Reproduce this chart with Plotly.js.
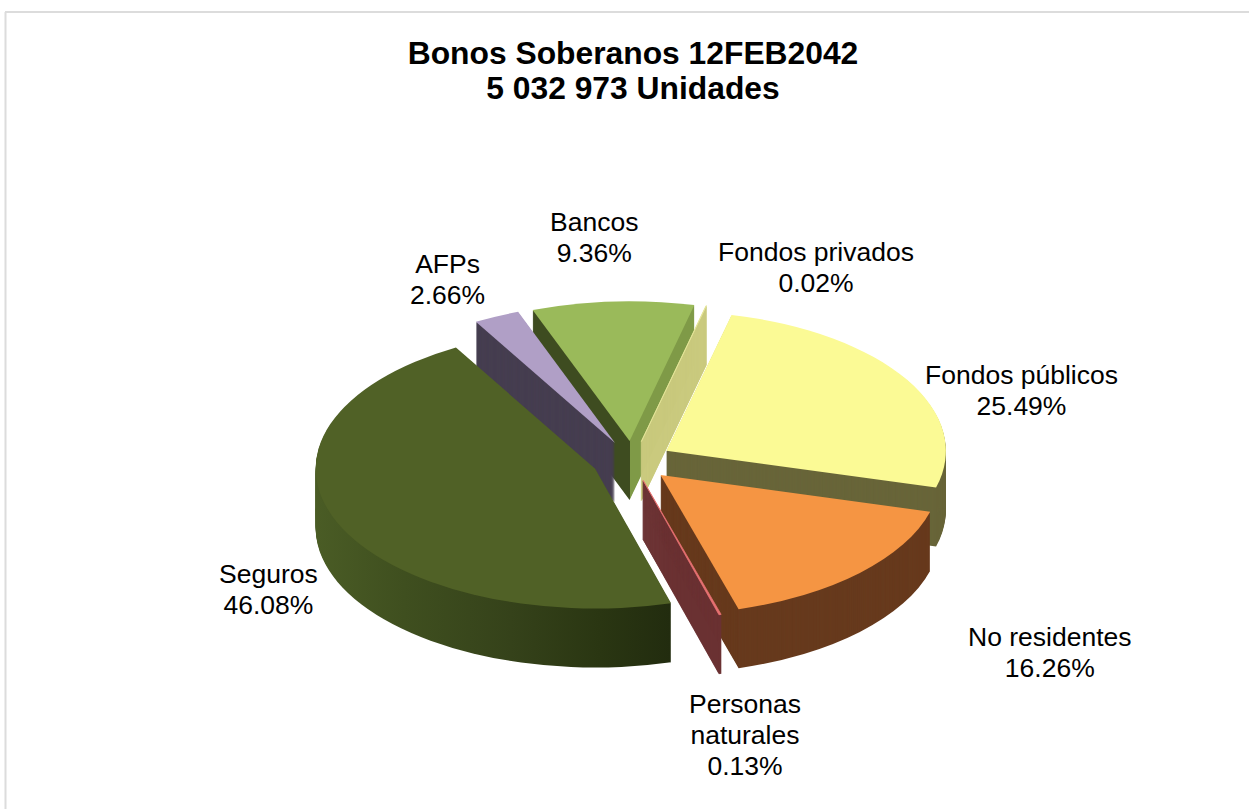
<!DOCTYPE html>
<html>
<head>
<meta charset="utf-8">
<script src="https://cdn.plot.ly/plotly-3.0.1.min.js"></script>
<style>html,body{margin:0;padding:0;background:#fff}#chart{width:1249px;height:809px}</style>
</head>
<body>
<div id="chart"></div>
<script>
// Data (clockwise from the first slice)
const categories = ["Fondos privados", "Fondos públicos", "No residentes", "Personas<br>naturales", "Seguros", "AFPs", "Bancos"];
const shares = [0.02, 25.49, 16.26, 0.13, 46.08, 2.66, 9.36];
const titleText = "Bonos Soberanos 12FEB2042<br>5 032 973 Unidades";

// Styles
const topColors  = ["#e6e69a", "#fbfa95", "#f59543", "#e87272", "#506126", "#b09fc6", "#9aba5a"];
const sideColors = ["#c9ca7e", "#686539", "#673a1d", "#6b3233", "#35421a", "#463e50", "#3e4c20"];
const thinLines  = [1, 0, 0, 1, 0, 0, 0];
const labelCentres = [[816, 236.5], [1021.5, 358.5], [1050, 620.5], [745, 687.5], [268, 557.5], [447, 247.5], [594, 205.5]];

// Projection of the tilted pie
const W = 1249, H = 809;
const radius = 279.5, pull = 0.143, tilt = 0.5, depth = 59;
const centreX = 632, centreY = 461, circleY = 330;
const D = 2 * radius * (1 + pull);

function layer(offset, colors) {
  const cy = circleY + offset / tilt;
  return {
    type: "pie", values: shares, labels: categories, sort: false, direction: "clockwise",
    rotation: 13.4, pull: pull, textinfo: "none", hoverinfo: "skip", showlegend: false,
    marker: { colors: colors, line: { color: colors, width: thinLines } },
    domain: {
      x: [(centreX - D / 2) / W, (centreX + D / 2) / W],
      y: [(H - cy - D / 2) / H, (H - cy + D / 2) / H]
    }
  };
}

const traces = [];
for (let d = depth; d >= 1; d--) traces.push(layer(d, sideColors));
traces.push(layer(0, topColors));

const annotations = categories.map((c, i) => ({
  xref: "paper", yref: "paper", x: labelCentres[i][0] / W, y: 1 - labelCentres[i][1] / H,
  xanchor: "center", yanchor: "top", align: "center", showarrow: false, borderpad: 0,
  text: c + "<br>" + shares[i].toFixed(2) + "%",
  font: { family: "Liberation Sans, Arial, sans-serif", size: 26.5, color: "#000" }
}));

const layout = {
  width: W, height: H, margin: { l: 0, r: 0, t: 0, b: 0, autoexpand: false },
  paper_bgcolor: "#fff", showlegend: false,
  title: {
    text: titleText, x: 633 / W, xanchor: "center", xref: "paper",
    y: 1 - 64 / H, yref: "container", yanchor: "top",
    font: { family: "Liberation Sans, Arial, sans-serif", size: 31.8, color: "#000", weight: 700 }
  },
  annotations: annotations,
  shapes: [
    { type: "line", xref: "paper", yref: "paper", x0: 5.5 / W, x1: 5.5 / W, y0: 0, y1: 1 - 12 / H, line: { color: "#dcdcdc", width: 2 } },
    { type: "line", xref: "paper", yref: "paper", x0: 5 / W, x1: 1, y0: 1 - 12 / H, y1: 1 - 12 / H, line: { color: "#dcdcdc", width: 2 } }
  ]
};

Plotly.newPlot("chart", traces, layout, { staticPlot: true, displayModeBar: false }).then(function () {
  const svg = document.querySelector("#chart .main-svg");
  const ns = "http://www.w3.org/2000/svg";
  const defs = svg.querySelector("defs") || svg.insertBefore(document.createElementNS(ns, "defs"), svg.firstChild);
  function gradient(id, stops) {
    const g = document.createElementNS(ns, "linearGradient");
    g.setAttribute("id", id); g.setAttribute("x1", "0"); g.setAttribute("x2", "1");
    g.setAttribute("y1", "0"); g.setAttribute("y2", "0");
    stops.forEach(function (s) {
      const st = document.createElementNS(ns, "stop");
      st.setAttribute("offset", s[0]); st.setAttribute("stop-color", s[1]);
      g.appendChild(st);
    });
    defs.appendChild(g);
  }
  gradient("wallSeguros", [[0, "#4a5c25"], [0.25, "#3f4f1f"], [0.55, "#35421a"], [0.8, "#2a3612"], [1, "#222c0f"]]);
  gradient("wallBancos", [[0, "#3e4c20"], [0.6, "#3e4c20"], [0.6, "#7f9a47"], [1, "#7f9a47"]]);

  // Squash the round pies into the tilted ellipse and shade the walls
  const pieLayer = svg.querySelector(".pielayer");
  pieLayer.setAttribute("transform", "matrix(1 0 0 " + tilt + " 0 " + (centreY - tilt * circleY) + ")");
  const groups = pieLayer.querySelectorAll(".trace");
  groups.forEach(function (t, k) {
    if (k === groups.length - 1) return;
    const s = t.querySelectorAll("path.surface");
    if (s[4]) s[4].style.fill = "url(#wallSeguros)";
    if (s[6]) s[6].style.fill = "url(#wallBancos)";
  });

  // Tighter line spacing, as in the reference
  document.querySelectorAll("#chart .annotation-text tspan.line").forEach(function (l) {
    if (l.getAttribute("dy") && parseFloat(l.getAttribute("dy")) !== 0) {
      l.setAttribute("dy", (parseFloat(l.getAttribute("dy")) / 1.3 * 1.17) + "em");
    }
  });
  document.querySelectorAll("#chart .gtitle tspan.line").forEach(function (l) {
    if (l.getAttribute("dy") && parseFloat(l.getAttribute("dy")) !== 0) {
      l.setAttribute("dy", (parseFloat(l.getAttribute("dy")) / 1.3 * 1.09) + "em");
    }
  });
});
</script>
</body>
</html>
